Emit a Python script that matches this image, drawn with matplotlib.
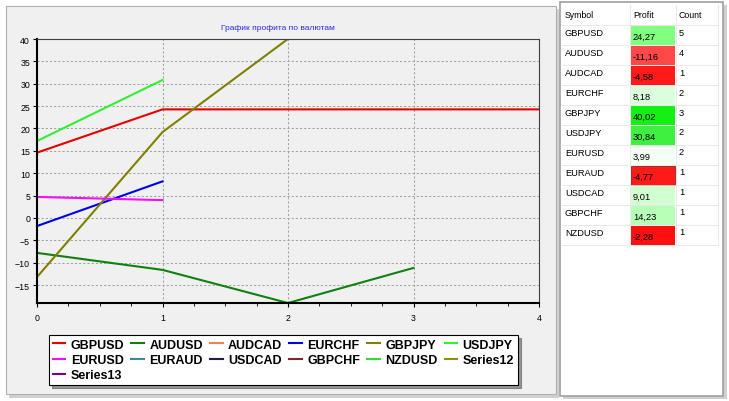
import matplotlib
matplotlib.use("Agg")
import matplotlib.pyplot as plt
from matplotlib.patches import Rectangle
from matplotlib.ticker import MultipleLocator

plt.rcParams['font.family'] = ['Liberation Sans', 'DejaVu Sans']

# profit curves per symbol (cumulative profit by trade number)
gbpusd = [14.6, 24.27, 24.27, 24.27, 24.27]
audusd = [-7.8, -11.6, -19.0, -11.16]
audcad = [-4.58]
eurchf = [-1.8, 8.18]
gbpjpy = [-13.2, 19.2, 40.02]
usdjpy = [17.2, 30.84]
eurusd = [4.7, 3.99]
euraud = [-4.77]
usdcad = [9.01]
gbpchf = [14.23]
nzdusd = [-2.28]
series12 = []
series13 = []

series_names = ["GBPUSD", "AUDUSD", "AUDCAD", "EURCHF", "GBPJPY", "USDJPY",
                "EURUSD", "EURAUD", "USDCAD", "GBPCHF", "NZDUSD", "Series12", "Series13"]
series_data = [gbpusd, audusd, audcad, eurchf, gbpjpy, usdjpy,
               eurusd, euraud, usdcad, gbpchf, nzdusd, series12, series13]
series_colors = ["#E80000", "#108010", "#F08050", "#0000F0", "#808000", "#30F030",
                 "#F010F0", "#3A8A9A", "#202040", "#802828", "#30E030", "#909010", "#800080"]

# table on the right
table_symbols = ["GBPUSD", "AUDUSD", "AUDCAD", "EURCHF", "GBPJPY", "USDJPY",
                 "EURUSD", "EURAUD", "USDCAD", "GBPCHF", "NZDUSD"]
table_profit = ["24,27", "-11,16", "-4,58", "8,18", "40,02", "30,84",
                "3,99", "-4,77", "9,01", "14,23", "-2,28"]
table_count = [5, 4, 1, 2, 3, 2, 2, 1, 1, 1, 1]
profit_colors = ["#80FF80", "#FF4848", "#FF1A1A", "#DAFFDA", "#14F014", "#40F040",
                 "#F2FFF2", "#FF1A1A", "#D2FFD2", "#B8FFB8", "#FF1010"]

W, H = 729, 402
fig = plt.figure(figsize=(W / 100, H / 100), dpi=100, facecolor="white")

# background panels drawn in pixel coordinates
bg = fig.add_axes([0, 0, 1, 1], zorder=0)
bg.set_xlim(0, W)
bg.set_ylim(H, 0)
bg.axis("off")
bg.add_patch(Rectangle((9, 10), 550, 389, facecolor="#D0D0D0", edgecolor="none"))
bg.add_patch(Rectangle((6, 7), 550, 388, facecolor="#F0F0F0", edgecolor="#B0B0B0", lw=0.8))
bg.add_patch(Rectangle((563, 6), 164, 394, facecolor="#D0D0D0", edgecolor="none"))
bg.add_patch(Rectangle((560, 3), 163, 394, facecolor="white", edgecolor="#A0A0A0", lw=1.2))

# table
col_x = [562, 630, 676, 718]
row_top = 6
row_h = 20
hdr_h = 20
bg.text(565, row_top + 9, "Symbol", fontsize=6.3, va="center", color="black")
bg.text(633, row_top + 9, "Profit", fontsize=6.3, va="center", color="black")
bg.text(679, row_top + 9, "Count", fontsize=6.3, va="center", color="black")
for i in range(len(table_symbols)):
    y0 = row_top + hdr_h + i * row_h
    bg.add_patch(Rectangle((col_x[1] + 1, y0 + 1), col_x[2] - col_x[1] - 2, row_h - 1,
                           facecolor=profit_colors[i],
                           edgecolor="#902020" if i == 7 else "none", lw=0.6))
    bg.text(565, y0 + 8, table_symbols[i], fontsize=6.7, va="center")
    bg.text(633, y0 + 11, table_profit[i], fontsize=6.7, va="center")
    bg.text(679, y0 + 7, str(table_count[i]), fontsize=6.7, va="center")
for i in range(len(table_symbols) + 1):
    y0 = row_top + hdr_h + i * row_h
    bg.plot([col_x[0], col_x[3]], [y0, y0], color="#E6E6E6", lw=0.6)
for x in col_x[1:]:
    bg.plot([x, x], [row_top, row_top + hdr_h + len(table_symbols) * row_h],
            color="#E6E6E6", lw=0.6)

# chart
ax = fig.add_axes([37 / W, 1 - 304 / H, (539 - 37) / W, (304 - 40) / H], zorder=1)
ax.set_facecolor("#F0F0F0")
handles = {}
for name, vals, c in zip(series_names, series_data, series_colors):
    ln, = ax.plot(range(len(vals)), vals, color=c, lw=1.5, label=name, clip_on=True)
    handles[name] = ln

ax.set_xlim(0, 4)
ax.set_ylim(-19, 40)
ax.xaxis.set_major_locator(MultipleLocator(1))
ax.xaxis.set_minor_locator(MultipleLocator(0.25))
ax.yaxis.set_major_locator(MultipleLocator(5))
ax.grid(True, which="major", linestyle=(0, (2, 2)), color="#A0A0A0", lw=0.75)
ax.tick_params(axis="both", which="major", labelsize=6.3, length=3, width=0.8, pad=2)
ax.tick_params(axis="x", which="minor", length=2, width=0.6)
ax.tick_params(axis="x", pad=4)
for s in ("left", "bottom"):
    ax.spines[s].set_linewidth(1.5)
    ax.spines[s].set_color("black")
for s in ("top", "right"):
    ax.spines[s].set_linewidth(0.8)
    ax.spines[s].set_color("#404040")

fig.text(278 / W, 1 - 28 / H, "График профита по валютам", fontsize=6,
         color="#2828F0", ha="center", va="center")

# legend rows read left-to-right, matplotlib fills column-first
order = ["GBPUSD", "EURUSD", "Series13", "AUDUSD", "EURAUD", "AUDCAD", "USDCAD",
         "EURCHF", "GBPCHF", "GBPJPY", "NZDUSD", "USDJPY", "Series12"]
leg = fig.legend([handles[n] for n in order], order, ncol=6, loc="upper left",
                 bbox_to_anchor=(49 / W, 1 - 336 / H), borderaxespad=0,
                 prop={"weight": "bold", "size": 9}, frameon=True, fancybox=False,
                 shadow={"ox": 2, "oy": -2, "color": "#404040"},
                 edgecolor="black", facecolor="white", framealpha=1,
                 handlelength=1.0, handletextpad=0.45, columnspacing=0.55,
                 labelspacing=0.25, borderpad=0.3)
leg.get_frame().set_linewidth(0.8)

fig.savefig("out.png", dpi=100, facecolor="white")
